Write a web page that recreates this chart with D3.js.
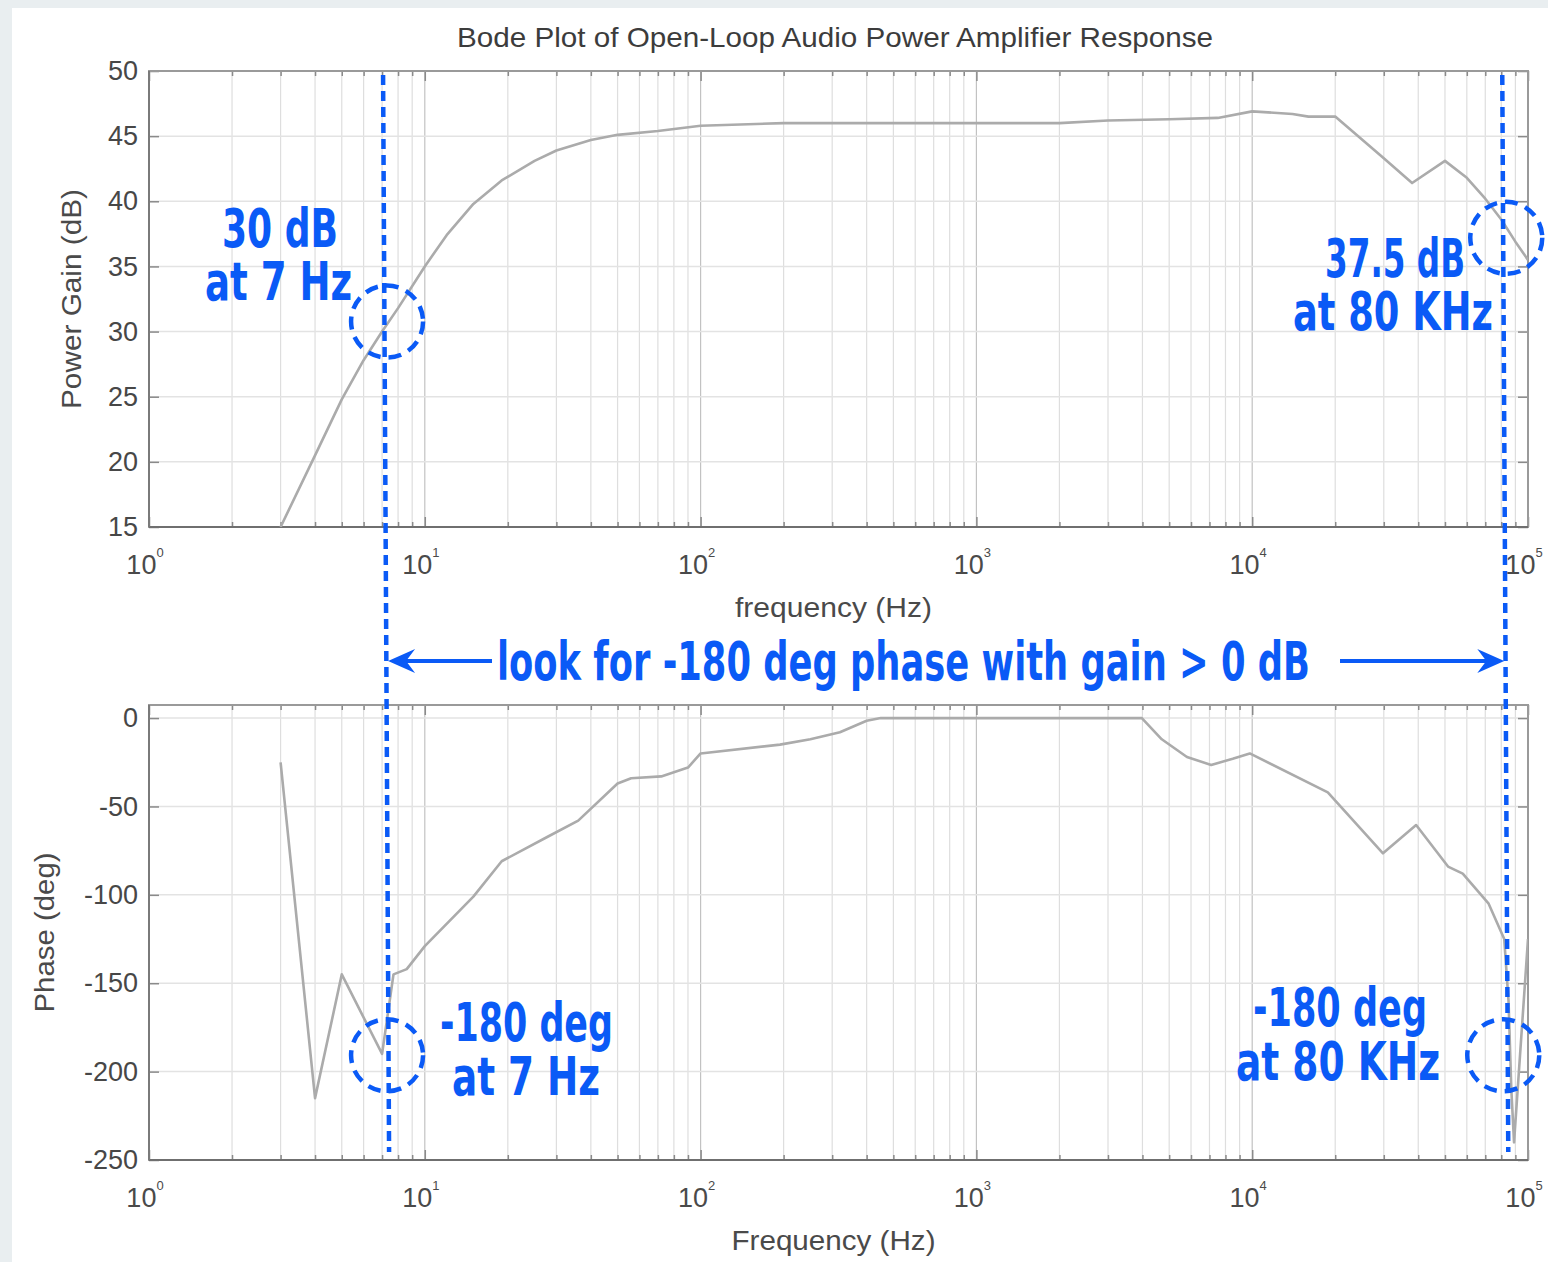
<!DOCTYPE html>
<html>
<head>
<meta charset="utf-8">
<script src="https://cdn.jsdelivr.net/npm/d3@7"></script>
<style>
  body { margin: 0; background: #fff; }
  svg { display: block; }
</style>
</head>
<body>
<svg id="chart" width="1548" height="1262"></svg>
<script>
// values
const gainFreq = [3, 4, 5, 6, 7, 8, 10, 12, 15, 19, 25, 30, 40, 50, 70, 100, 200, 500, 1000, 2000,
                  3000, 5000, 7500, 10000, 14000, 16000, 20000, 30000, 38000, 50000, 60000, 70000, 80000, 90000, 100000];
const gainDb   = [15, 20.5, 24.8, 27.8, 30, 31.8, 35, 37.4, 39.8, 41.6, 43.1, 43.9, 44.7, 45.1, 45.4, 45.8, 46, 46, 46, 46,
                  46.2, 46.3, 46.4, 46.9, 46.7, 46.5, 46.5, 43.3, 41.4, 43.1, 41.8, 40.2, 38.6, 36.9, 35.5];

const phaseFreq = [3, 4, 5, 7, 7.7, 8.6, 10, 15, 19, 28, 36, 50, 56, 72, 90, 100, 194, 250, 320, 400, 450,
                   1000, 3980, 4700, 5800, 7100, 8500, 9800, 18800, 29800, 39300, 51300, 58000, 72000, 82000,
                   85000, 87000, 89000, 100000];
const phaseDeg  = [-25, -215, -145, -190, -145, -142, -129, -101, -81, -67, -58, -37, -34, -33, -28, -20, -15, -12, -8, -1.5, 0,
                   0, 0, -12, -22, -26.5, -23, -20, -42, -76.5, -60.5, -84, -88, -105, -125,
                   -160, -210, -240, -125];

const gainTicks  = [15, 20, 25, 30, 35, 40, 45, 50];
const phaseTicks = [-250, -200, -150, -100, -50, 0];
const decades    = [1, 10, 100, 1000, 10000, 100000];
const decadeExp  = ["0", "1", "2", "3", "4", "5"];

// points picked out by the hand-drawn notes
const markFreq  = [7, 80000];
const markGain  = [30, 37.5];
const markPhase = [-180, -180];

const W = 1548, H = 1262;
const svg = d3.select("#chart");
const tickFont = "'Liberation Sans', Arial, sans-serif";
const noteFont = "'Liberation Sans Narrow', 'DejaVu Sans Condensed', 'Liberation Sans', sans-serif";
const blue = "#0a5af6";

// light frame round the screenshot
svg.append("rect").attr("width", W).attr("height", H).attr("fill", "#e9eef0");
svg.append("rect").attr("x", 12).attr("y", 8).attr("width", W - 12).attr("height", H - 8).attr("fill", "#fff");

const x = d3.scaleLog().domain([1, 1e5]).range([149, 1528]);
const yGain = d3.scaleLinear().domain([15, 50]).range([527, 71]);
const yPhase = d3.scaleLinear().domain([-250, 7.4]).range([1160, 705]);

const minors = [];
decades.slice(0, -1).forEach(d => d3.range(2, 10).forEach(k => minors.push(d * k)));

function panel(y, ticks, freqs, vals, xLabel, xLabelLen, yLabel, yLabelLen, yLabelX, id) {
  const [bottom, top] = y.range();
  const [left, right] = x.range();
  const g = svg.append("g");

  // grid
  g.selectAll(".vminor").data(minors).join("line")
    .attr("x1", d => x(d)).attr("x2", d => x(d)).attr("y1", top).attr("y2", bottom)
    .attr("stroke", "#dedede").attr("stroke-width", 1.2);
  g.selectAll(".vmajor").data(decades).join("line")
    .attr("x1", d => x(d)).attr("x2", d => x(d)).attr("y1", top).attr("y2", bottom)
    .attr("stroke", "#c2c2c2").attr("stroke-width", 1.2);
  g.selectAll(".hgrid").data(ticks).join("line")
    .attr("x1", left).attr("x2", right).attr("y1", d => y(d)).attr("y2", d => y(d))
    .attr("stroke", "#e3e3e3").attr("stroke-width", 1.5);

  // ticks on all four sides, pointing inward
  const styleAxis = sel => {
    sel.select(".domain").remove();
    sel.selectAll("line").attr("stroke", "#8a8a8a").attr("stroke-width", 1.5);
  };
  g.append("g").attr("transform", `translate(0,${bottom})`)
    .call(d3.axisBottom(x).tickValues(decades).tickSize(-10).tickFormat("")).call(styleAxis);
  g.append("g").attr("transform", `translate(0,${bottom})`)
    .call(d3.axisBottom(x).tickValues(minors).tickSize(-5).tickFormat("")).call(styleAxis);
  g.append("g").attr("transform", `translate(0,${top})`)
    .call(d3.axisTop(x).tickValues(decades).tickSize(-10).tickFormat("")).call(styleAxis);
  g.append("g").attr("transform", `translate(0,${top})`)
    .call(d3.axisTop(x).tickValues(minors).tickSize(-5).tickFormat("")).call(styleAxis);
  g.append("g").attr("transform", `translate(${right},0)`)
    .call(d3.axisRight(y).tickValues(ticks).tickSize(-10).tickFormat("")).call(styleAxis);
  const la = g.append("g").attr("transform", `translate(${left},0)`)
    .call(d3.axisLeft(y).tickValues(ticks).tickSize(-10).tickPadding(11).tickFormat(d => String(d)));
  styleAxis(la);
  la.selectAll("text").attr("font-family", tickFont).attr("font-size", 27).attr("fill", "#474747");

  // box
  g.append("rect").attr("x", left).attr("y", top).attr("width", right - left).attr("height", bottom - top)
    .attr("fill", "none").attr("stroke", "#9a9a9a").attr("stroke-width", 2);
  g.append("line").attr("x1", left).attr("x2", right).attr("y1", bottom).attr("y2", bottom)
    .attr("stroke", "#6f6f6f").attr("stroke-width", 2);
  g.append("line").attr("x1", left).attr("x2", left).attr("y1", top).attr("y2", bottom)
    .attr("stroke", "#7a7a7a").attr("stroke-width", 2);

  // decade labels 10^n
  const xt = g.selectAll(".xt").data(decades).join("text")
    .attr("x", d => x(d) - 4).attr("y", bottom + 47)
    .attr("text-anchor", "middle").attr("font-family", tickFont).attr("font-size", 27).attr("fill", "#4a4a4a");
  xt.append("tspan").text("10");
  xt.append("tspan").attr("dy", -17).attr("font-size", 13).text((d, i) => decadeExp[i]);

  // axis titles
  g.append("text").attr("x", (left + right) / 2 - 5 - xLabelLen / 2).attr("y", bottom + 90)
    .attr("textLength", xLabelLen).attr("lengthAdjust", "spacingAndGlyphs")
    .attr("font-family", tickFont).attr("font-size", 27).attr("fill", "#4a4a4a")
    .text(xLabel);
  g.append("text").attr("transform", `translate(${yLabelX},${(top + bottom) / 2}) rotate(-90)`)
    .attr("x", -yLabelLen / 2).attr("textLength", yLabelLen).attr("lengthAdjust", "spacingAndGlyphs")
    .attr("font-family", tickFont).attr("font-size", 27).attr("fill", "#4a4a4a")
    .text(yLabel);

  // curve
  svg.append("clipPath").attr("id", id).append("rect")
    .attr("x", left).attr("y", top).attr("width", right - left).attr("height", bottom - top);
  const line = d3.line().x(d => x(d[0])).y(d => y(d[1]));
  g.append("path").datum(d3.zip(freqs, vals))
    .attr("clip-path", `url(#${id})`)
    .attr("d", line).attr("fill", "none")
    .attr("stroke", "#ababab").attr("stroke-width", 2.6).attr("stroke-linejoin", "round");
}

panel(yGain, gainTicks, gainFreq, gainDb, "frequency (Hz)", 197, "Power Gain (dB)", 220, 81, "clipGain");
panel(yPhase, phaseTicks, phaseFreq, phaseDeg, "Frequency (Hz)", 204, "Phase (deg)", 160, 54, "clipPhase");

svg.append("text").attr("x", 457).attr("y", 47)
  .attr("textLength", 756).attr("lengthAdjust", "spacingAndGlyphs")
  .attr("font-family", tickFont).attr("font-size", 28).attr("fill", "#3c3c3c")
  .text("Bode Plot of Open-Loop Audio Power Amplifier Response");

// hand-drawn notes
const notes = svg.append("g");
markFreq.forEach(f => {
  notes.append("line")
    .attr("x1", x(f) + 1).attr("y1", 75).attr("x2", x(f) + 7).attr("y2", 1152)
    .attr("stroke", blue).attr("stroke-width", 4.5).attr("stroke-dasharray", "10 6");
});

const circles = [
  [x(markFreq[0]) + 5, yGain(markGain[0]) - 10],
  [x(markFreq[1]) + 5, yGain(markGain[1]) + 4],
  [x(markFreq[0]) + 5, yPhase(markPhase[0]) + 19],
  [x(markFreq[1]) + 2, yPhase(markPhase[1]) + 19]
];
notes.selectAll(".ring").data(circles).join("circle")
  .attr("cx", d => d[0]).attr("cy", d => d[1]).attr("r", 36)
  .attr("fill", "none").attr("stroke", blue).attr("stroke-width", 4.5).attr("stroke-dasharray", "13 8");

// [text, left x, baseline y, width]
const noteText = [
  ["30 dB", 222, 247, 116],
  ["at 7 Hz", 205, 300, 147],
  ["37.5 dB", 1325, 277, 140],
  ["at 80 KHz", 1293, 330, 200],
  ["look for -180 deg phase with gain > 0 dB", 497, 680, 813],
  ["-180 deg", 440, 1041, 173],
  ["at 7 Hz", 452, 1095, 148],
  ["-180 deg", 1253, 1026, 174],
  ["at 80 KHz", 1236, 1080, 204]
];
notes.selectAll(".note").data(noteText).join("text")
  .attr("x", d => d[1]).attr("y", d => d[2])
  .attr("textLength", d => d[3]).attr("lengthAdjust", "spacingAndGlyphs")
  .attr("font-family", noteFont).attr("font-weight", "bold").attr("font-size", 53)
  .attr("fill", blue).text(d => d[0]);

// arrows to the two limits
const ay = 661;
const lt = x(markFreq[0]) + 6, rt = x(markFreq[1]) + 3;
notes.append("line").attr("x1", lt + 10).attr("x2", 492).attr("y1", ay).attr("y2", ay)
  .attr("stroke", blue).attr("stroke-width", 4);
notes.append("path").attr("fill", blue)
  .attr("d", `M${lt},${ay} L${lt + 27},${ay - 12} L${lt + 18},${ay} L${lt + 27},${ay + 12} Z`);
notes.append("line").attr("x1", 1340).attr("x2", rt - 10).attr("y1", ay).attr("y2", ay)
  .attr("stroke", blue).attr("stroke-width", 4);
notes.append("path").attr("fill", blue)
  .attr("d", `M${rt},${ay} L${rt - 27},${ay - 12} L${rt - 18},${ay} L${rt - 27},${ay + 12} Z`);
</script>
</body>
</html>
